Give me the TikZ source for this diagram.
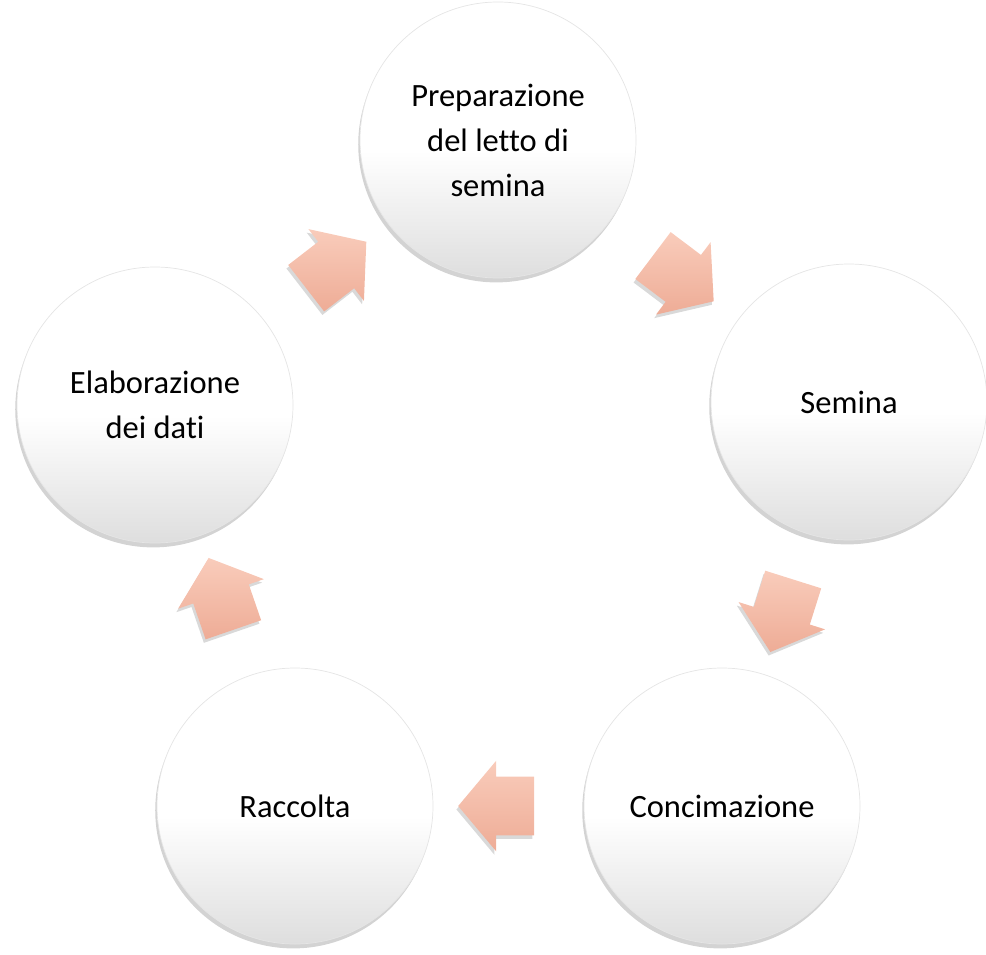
\documentclass[tikz,border=0pt]{standalone}
\usepackage{fontspec}
\setmainfont{Carlito}[Ligatures=NoCommon]
\usetikzlibrary{shapes.arrows, shadows, calc}
\definecolor{arrowTop}{RGB}{249,204,187}
\definecolor{arrowBot}{RGB}{238,172,150}
\pgfdeclareverticalshading{stagefill}{100bp}{color(0bp)=(black!13);
  color(25bp)=(black!13); color(48bp)=(white); color(100bp)=(white)}
\tikzstyle{stage} = [circle, minimum size=5.52cm, inner sep=0pt,
  align=center, draw=black!10, shading=stagefill,
  drop shadow={opacity=0.35, shadow xshift=-1pt, shadow yshift=-2.5pt},
  font=\fontsize{18.5}{25.6}\selectfont]
\tikzstyle{cyc} = [single arrow, minimum height=1.52cm, inner xsep=0pt,
  inner ysep=0.58cm, single arrow head extend=0.32cm,
  single arrow tip angle=100, top color=arrowTop, bottom color=arrowBot,
  draw=none,
  drop shadow={opacity=0.3, shadow xshift=-1pt, shadow yshift=-2pt}]

\begin{document}
\begin{tikzpicture}

\useasboundingbox (0,0) rectangle (19.72,-19.08);

%% nodes
\node (prep) [stage] at (9.96,-2.8) {Preparazione\\del letto di\\semina};
\node (sem) [stage] at (16.98,-8.04) {Semina};
\node (conc) [stage] at (14.44,-16.12) {Concimazione};
\node (racc) [stage] at (5.9,-16.12) {Raccolta};
\node (elab) [stage] at (3.1,-8.1) {Elaborazione\\dei dati};

%% arrows
\node (a1) [cyc, rotate=-37] at ($(prep)!0.5!(sem)$) {};
\node (a2) [cyc, rotate=-107.5] at ($(sem)!0.5!(conc)$) {};
\node (a3) [cyc, rotate=180] at ($(conc)!0.5!(racc)$) {};
\node (a4) [cyc, rotate=109] at ($(racc)!0.5!(elab)$) {};
\node (a5) [cyc, rotate=37.7] at ($(elab)!0.5!(prep)$) {};

\end{tikzpicture}
\end{document}
